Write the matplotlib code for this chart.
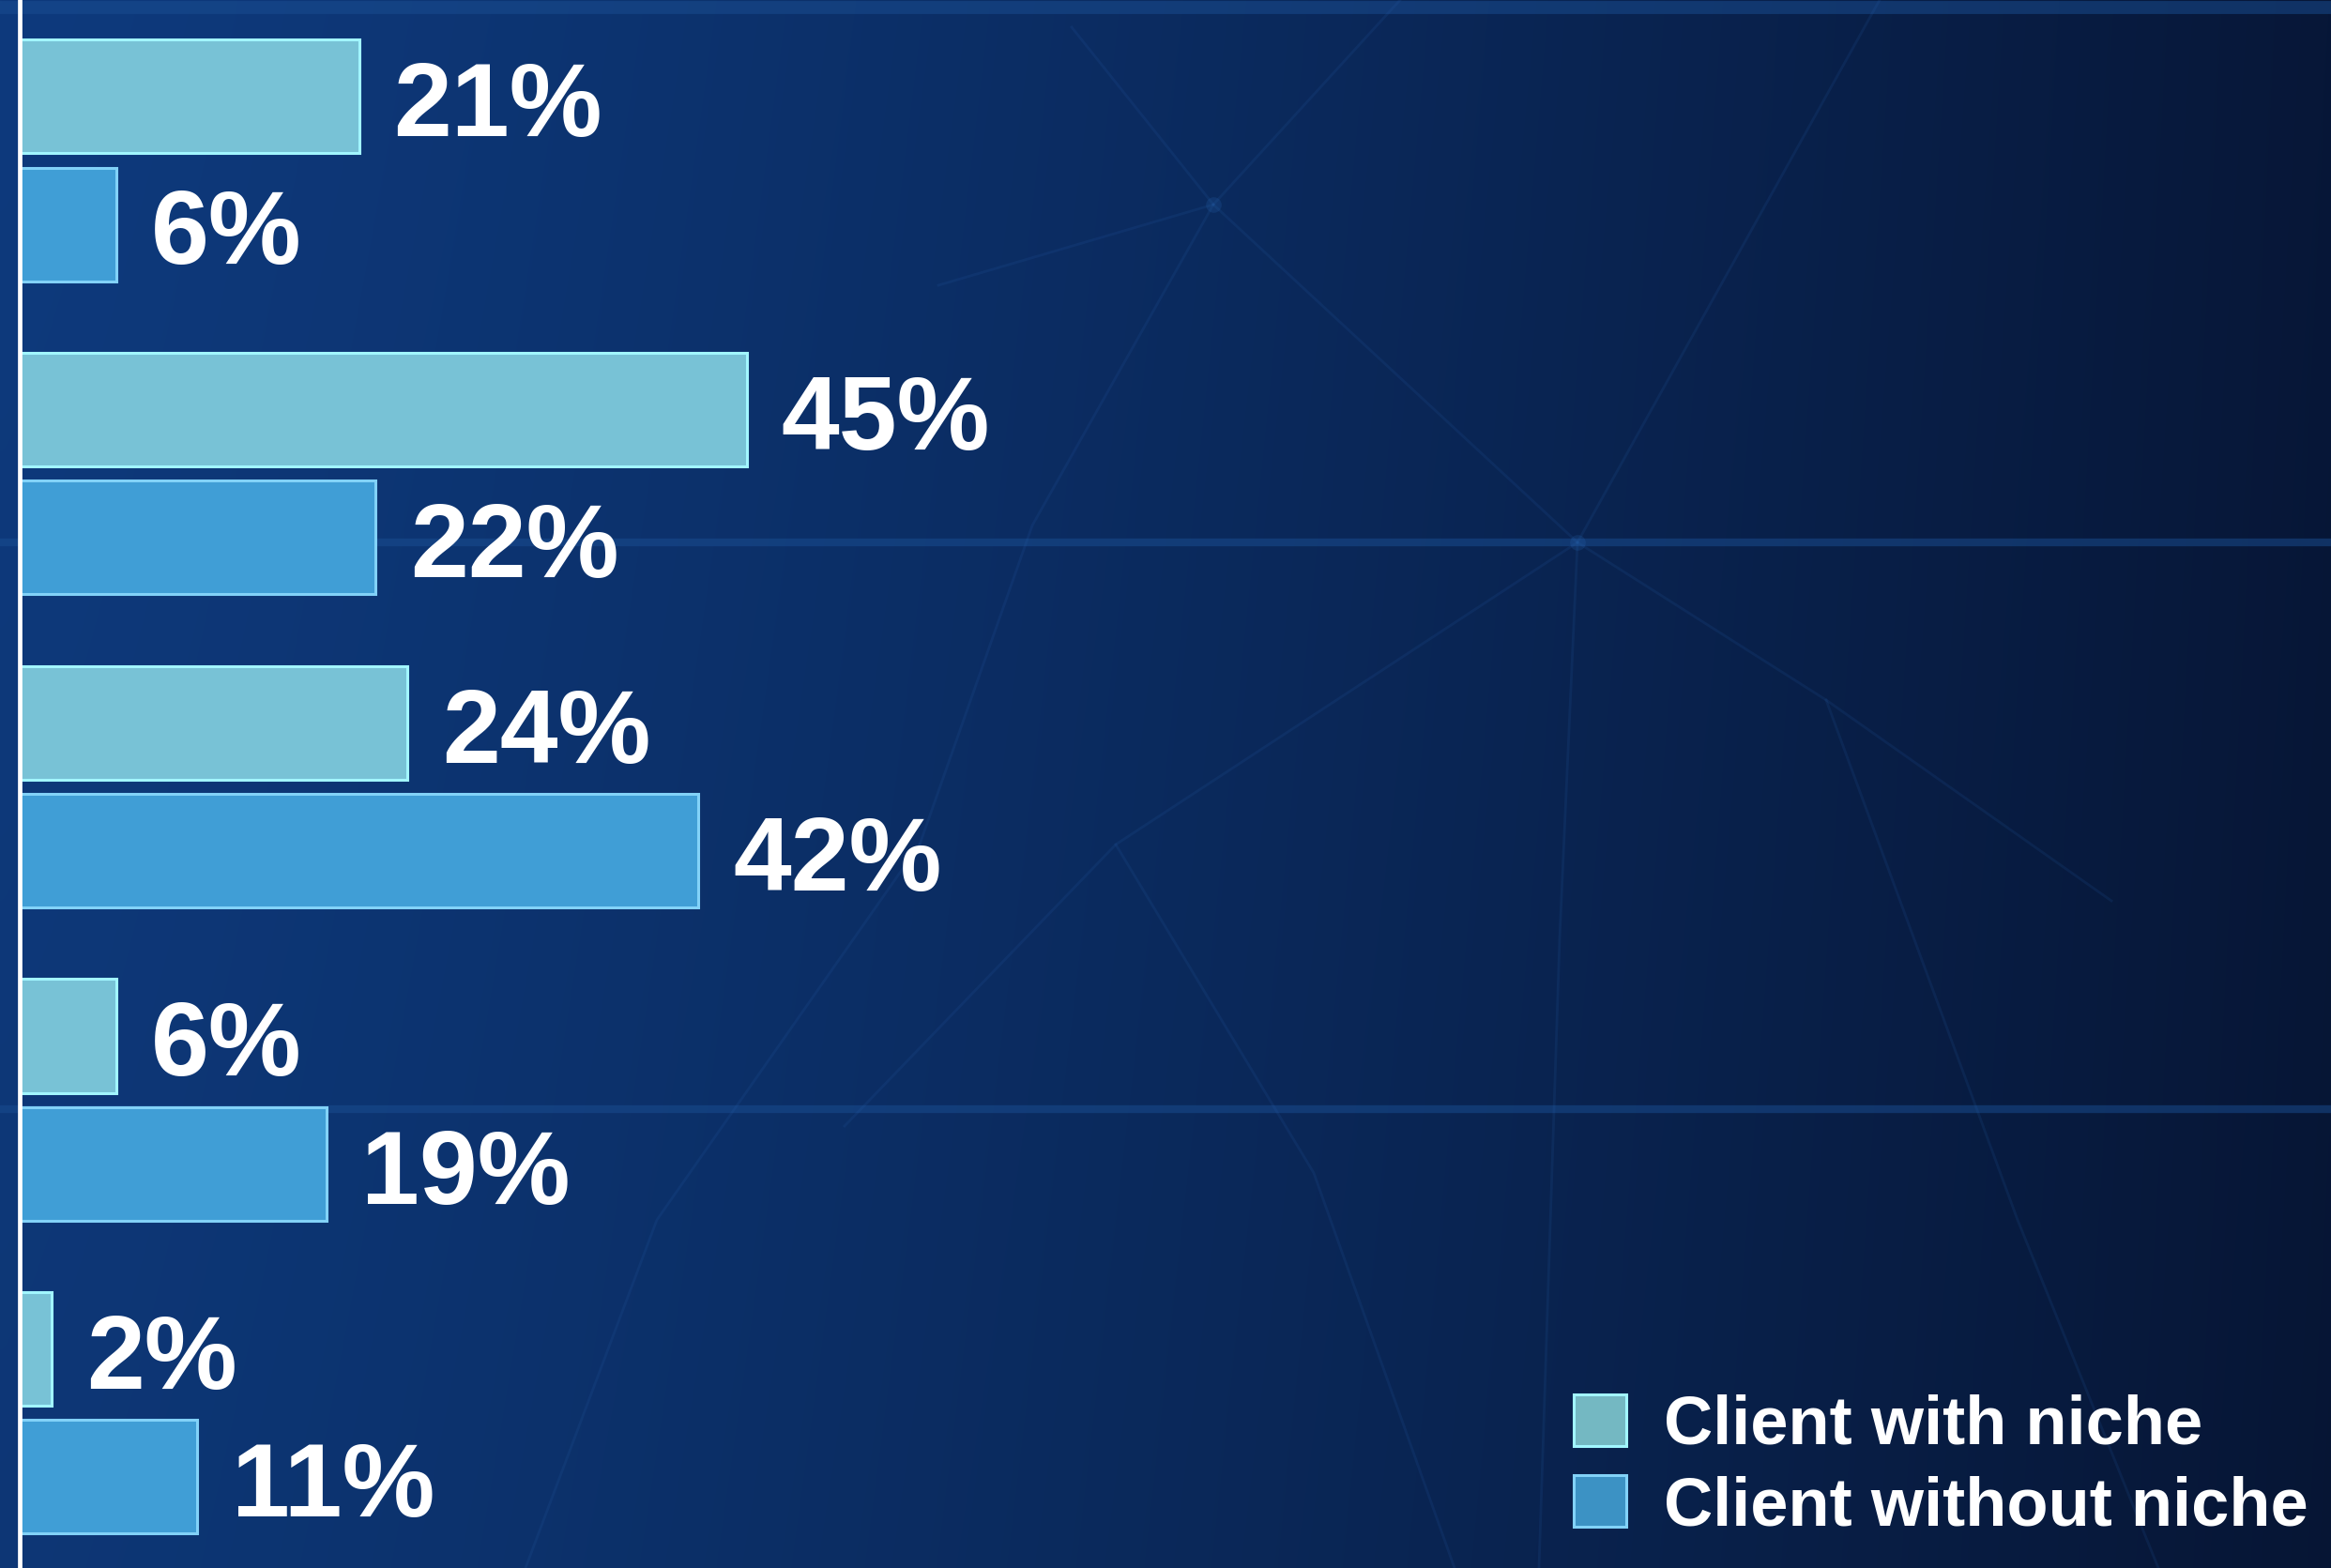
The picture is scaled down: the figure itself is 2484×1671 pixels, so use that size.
import numpy as np
import matplotlib
matplotlib.use("Agg")
import matplotlib.pyplot as plt
from matplotlib.patches import Patch

# ---- data -------------------------------------------------------------
groups = [0, 1, 2, 3, 4]
with_niche = [21, 45, 24, 6, 2]
without_niche = [6, 22, 42, 19, 11]
series_labels = ["Client with niche", "Client without niche"]

# ---- styling ----------------------------------------------------------
W, H, DPI = 2484, 1671, 100
FONT = ["Liberation Sans", "DejaVu Sans"]
plt.rcParams["font.family"] = FONT

niche_fill, niche_edge = "#78C2D6", "#A2F6FF"
plain_fill, plain_edge = "#409ED6", "#82D2F8"

fig = plt.figure(figsize=(W / DPI, H / DPI), dpi=DPI)

# ---- background: blue gradient with faint network lines ---------------
bg = fig.add_axes([0, 0, 1, 1])
xs = np.linspace(0, 1, 600)
t = xs ** 1.25
left = np.array([14, 58, 125]) / 255
right = np.array([7, 23, 56]) / 255
row = left[None, :] * (1 - t[:, None]) + right[None, :] * t[:, None]
ys = np.linspace(0, 1, 300)
shade = 1 - 0.06 * ys[:, None, None]
grad = np.clip(row[None, :, :] * shade, 0, 1)
bg.imshow(grad, extent=(0, W, H, 0), aspect="auto", interpolation="bilinear")
bg.set_xlim(0, W)
bg.set_ylim(H, 0)
bg.axis("off")

line_col = "#2a63b0"
for yb, lw in ((8, 10), (578, 6), (1182, 6)):
    bg.axhline(yb, color="#1a4e92", lw=lw, alpha=0.5)
segments = [
    [(1142, 29), (1293, 218), (1681, 578), (1946, 746), (2250, 960)],
    [(1293, 218), (1492, 0)],
    [(1000, 304), (1293, 218)],
    [(1681, 578), (2003, 0)],
    [(1681, 578), (1189, 900), (900, 1200)],
    [(1681, 578), (1662, 1000), (1640, 1671)],
    [(1293, 218), (1100, 560), (980, 900)],
    [(1946, 746), (2150, 1300), (2300, 1671)],
    [(1189, 900), (1400, 1250), (1550, 1671)],
    [(980, 900), (700, 1300), (560, 1671)],
]
for seg in segments:
    sx, sy = zip(*seg)
    bg.plot(sx, sy, color=line_col, lw=2.0, alpha=0.14)
for nx, ny in [(1293, 218), (1681, 578)]:
    bg.plot(nx, ny, "o", ms=12, color="#2a6ab8", alpha=0.2, mec="none")

# ---- bars ---------------------------------------------------------------
ax = fig.add_axes([0, 0, 1, 1])
ax.patch.set_alpha(0)
px_per_unit = 17.22
x0_px = 21
ax.set_xlim(-x0_px / px_per_unit, (W - x0_px) / px_per_unit)
g_px, g0_px = 333.7, 171
ax.set_ylim((H - g0_px) / g_px, -g0_px / g_px)

pos = np.array(groups, dtype=float)
off, h = 0.204, 0.363
b1 = ax.barh(pos - off, with_niche, height=h, color=niche_fill,
             edgecolor=niche_edge, linewidth=2.2, zorder=3)
b2 = ax.barh(pos + off, without_niche, height=h, color=plain_fill,
             edgecolor=plain_edge, linewidth=2.2, zorder=3)

ax.axvline(0, color="white", lw=3.4, zorder=4)

for ys_, vals in ((pos - off, with_niche), (pos + off, without_niche)):
    for y, v in zip(ys_, vals):
        ax.annotate(f"{v}%", xy=(v, y), xytext=(26.5, -30.5),
                    textcoords="offset points", ha="left", va="baseline",
                    fontsize=80, fontweight="bold", color="white", zorder=5)

for s in ax.spines.values():
    s.set_visible(False)
ax.set_xticks([])
ax.set_yticks([])

handles = [
    Patch(facecolor="#74B8C2", edgecolor=niche_edge, linewidth=2.2),
    Patch(facecolor="#3C92C4", edgecolor=plain_edge, linewidth=2.2),
]
leg = ax.legend(handles, series_labels, loc="lower left",
                bbox_to_anchor=(1677 / W, 1 - 1640 / H),
                bbox_transform=fig.transFigure, frameon=False,
                prop={"family": FONT, "weight": "bold", "size": 52},
                handlelength=0.78, handleheight=0.79, handletextpad=0.55,
                labelspacing=0.25, borderpad=0, borderaxespad=0)
for txt in leg.get_texts():
    txt.set_color("white")

fig.savefig("out.png", dpi=DPI)
